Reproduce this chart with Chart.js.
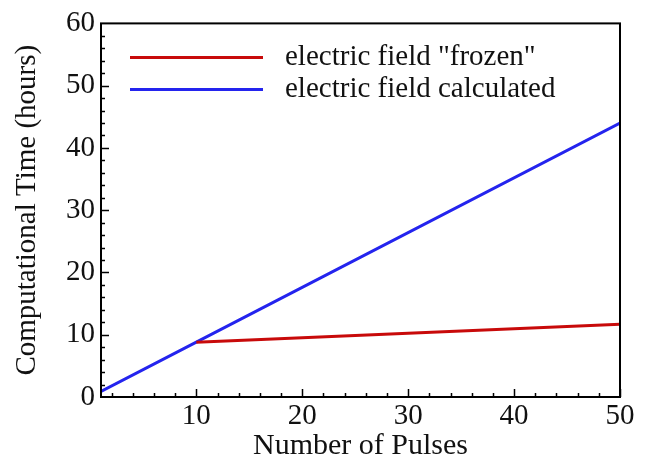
<!DOCTYPE html>
<html>
<head>
<meta charset="utf-8">
<script src="https://cdn.jsdelivr.net/npm/chart.js@4/dist/chart.umd.min.js"></script>
<style>
  html, body { margin: 0; padding: 0; background: #fff; }
  #wrap { width: 651px; height: 463px; position: relative; }
</style>
</head>
<body>
<div id="wrap"><canvas id="c"></canvas></div>
<script>
// Données
const pulsesCalc = [1, 10, 50];
const timeCalc = [0.9, 8.8, 44];
const pulsesFrozen = [10, 50];
const timeFrozen = [8.8, 11.7];
const xTicks = [10, 20, 30, 40, 50];
const yTicks = [0, 10, 20, 30, 40, 50, 60];

const SERIF = "'Liberation Serif', 'Times New Roman', serif";
const RED = '#c80a0a';
const BLUE = '#2424ee';

// Cadre + graduations vers l'intérieur (majeures et mineures)
const frame = {
  id: 'frame',
  afterDraw(chart) {
    const { ctx, chartArea: a, scales } = chart;
    const x = scales.x, y = scales.y;
    ctx.save();
    ctx.strokeStyle = '#000';
    ctx.lineWidth = 2;
    ctx.strokeRect(a.left, a.top, a.right - a.left, a.bottom - a.top);
    ctx.lineWidth = 1.5;
    ctx.beginPath();
    for (let v = 2; v <= 50; v += 2) {
      const px = Math.round(x.getPixelForValue(v)) + 0.5;
      const len = v % 10 === 0 ? 8 : 4;
      ctx.moveTo(px, a.bottom);
      ctx.lineTo(px, a.bottom - len);
    }
    for (let v = 2; v < 60; v += 2) {
      const py = Math.round(y.getPixelForValue(v)) + 0.5;
      const len = v % 10 === 0 ? 8 : 4;
      ctx.moveTo(a.left, py);
      ctx.lineTo(a.left + len, py);
    }
    ctx.stroke();
    ctx.restore();
  }
};

// Légende dans la zone de tracé, en haut à gauche
const innerLegend = {
  id: 'innerLegend',
  afterDraw(chart) {
    const { ctx, chartArea: a } = chart;
    ctx.save();
    ctx.font = '29px ' + SERIF;
    ctx.fillStyle = '#111';
    ctx.textBaseline = 'middle';
    chart.data.datasets.forEach((ds, i) => {
      const yy = a.top + 34 + i * 32;
      ctx.strokeStyle = ds.borderColor;
      ctx.lineWidth = 3;
      ctx.beginPath();
      ctx.moveTo(a.left + 29, yy);
      ctx.lineTo(a.left + 162, yy);
      ctx.stroke();
      ctx.fillText(ds.label, a.left + 184, yy);
    });
    ctx.restore();
  }
};

new Chart(document.getElementById('c'), {
  type: 'line',
  data: {
    datasets: [
      {
        label: 'electric field "frozen"',
        data: pulsesFrozen.map((p, i) => ({ x: p, y: timeFrozen[i] })),
        borderColor: RED,
        borderWidth: 3,
        pointRadius: 0,
        tension: 0
      },
      {
        label: 'electric field calculated',
        data: pulsesCalc.map((p, i) => ({ x: p, y: timeCalc[i] })),
        borderColor: BLUE,
        borderWidth: 3,
        pointRadius: 0,
        tension: 0
      }
    ]
  },
  options: {
    responsive: true,
    maintainAspectRatio: false,
    animation: false,
    layout: { padding: { top: 16, right: 31, left: 0, bottom: 0 } },
    plugins: { legend: { display: false }, tooltip: { enabled: false } },
    scales: {
      x: {
        type: 'linear',
        min: 1,
        max: 50,
        afterBuildTicks: s => { s.ticks = xTicks.map(v => ({ value: v })); },
        afterFit: s => { s.height = 66; },
        grid: { display: false, drawTicks: false },
        border: { display: false },
        ticks: { color: '#111', padding: 2, font: { family: SERIF, size: 29 } },
        title: {
          display: true,
          text: 'Number of Pulses',
          color: '#111',
          padding: { top: 0, bottom: 0 },
          font: { family: SERIF, size: 30, lineHeight: 1.1 }
        }
      },
      y: {
        type: 'linear',
        min: 0,
        max: 60,
        afterBuildTicks: s => { s.ticks = yTicks.map(v => ({ value: v })); },
        afterFit: s => { s.width = 101; },
        grid: { display: false, drawTicks: false },
        border: { display: false },
        ticks: { color: '#111', padding: 6, font: { family: SERIF, size: 29 } },
        title: {
          display: true,
          text: 'Computational Time (hours)',
          color: '#111',
          padding: { top: 11, bottom: 0 },
          font: { family: SERIF, size: 29, lineHeight: 1.1 }
        }
      }
    }
  },
  plugins: [frame, innerLegend]
});
</script>
</body>
</html>
